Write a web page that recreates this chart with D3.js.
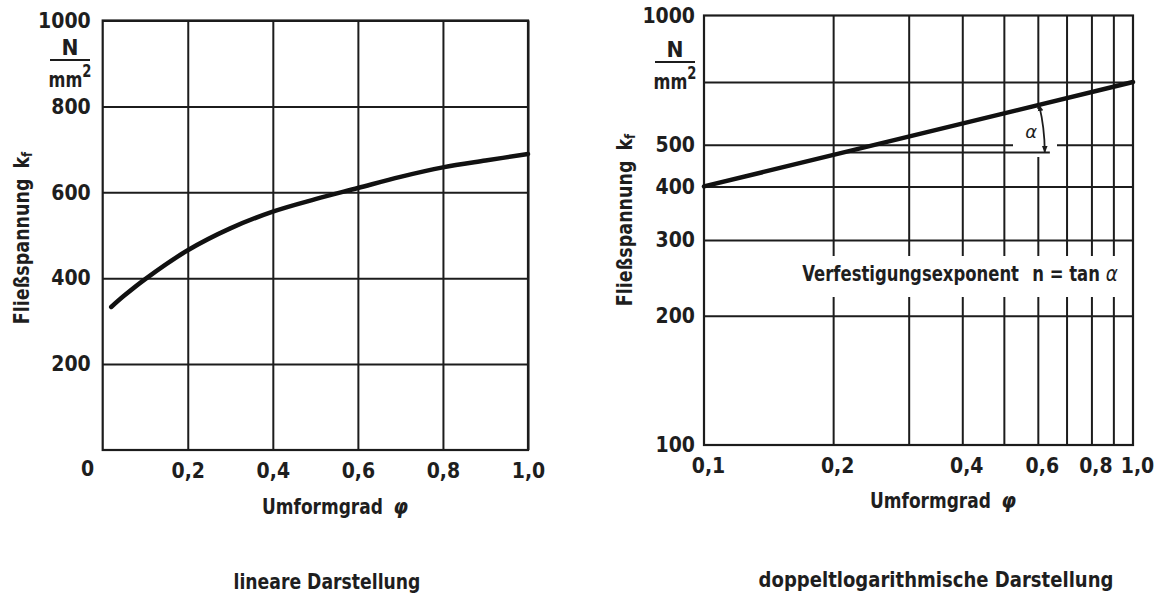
<!DOCTYPE html>
<html>
<head>
<meta charset="utf-8">
<script src="https://cdn.jsdelivr.net/npm/d3@7"></script>
<style>
  html, body { margin: 0; padding: 0; background: #fff; }
  svg { display: block; }
  text {
    font-family: "Liberation Sans Narrow", "DejaVu Sans Condensed", "Liberation Sans", sans-serif;
    font-weight: bold;
    fill: #1e1e1e;
  }
</style>
</head>
<body>
<svg id="chart" width="1165" height="596"></svg>
<script>
// ---- linear plot: flow stress k_f over true strain phi ----
const phiLin = [0.02, 0.05, 0.1, 0.2, 0.3, 0.4, 0.5, 0.6, 0.7, 0.8, 0.9, 1.0];
const kfLin  = [333, 359, 398, 465, 516, 555, 584, 610, 636, 658, 674, 689];
const linXTicks = [0.2, 0.4, 0.6, 0.8, 1.0];
const linYTicks = [200, 400, 600, 800, 1000];

// ---- double-logarithmic plot ----
const phiLog = [0.1, 1.0];
const kfLog  = [400, 700];
const logXGrid   = [0.2, 0.3, 0.4, 0.5, 0.6, 0.7, 0.8, 0.9];
const logXLabels = [0.1, 0.2, 0.4, 0.6, 0.8, 1.0];
const logYGrid   = [200, 300, 400, 500, 700];
const logYLabels = [100, 200, 300, 400, 500, 1000];
const legLevel   = 480;   // horizontal leg of the slope angle
const legEndPhi  = 0.64;  // where the leg stops

const INK = "#1c1c1c";
const fmt = d => d3.format(".1f")(d).replace(".", ",");

const svg = d3.select("#chart");

// arrow head for the angle arc
svg.append("defs").append("marker")
  .attr("id", "arr").attr("viewBox", "0 0 10 10")
  .attr("refX", 9).attr("refY", 5)
  .attr("markerWidth", 7).attr("markerHeight", 7)
  .attr("markerUnits", "userSpaceOnUse")
  .attr("orient", "auto-start-reverse")
  .append("path").attr("d", "M0,1 L10,5 L0,9 Z").attr("fill", INK);

function styleGrid(g) {
  g.select(".domain").remove();
  g.selectAll(".tick line").attr("stroke", INK).attr("stroke-width", 2);
  g.selectAll(".tick text").attr("fill", INK).style("font-size", "21px");
}

// text centred on (x, y), squeezed horizontally to a given width
function label(g, x, y, size, width, rot) {
  const t = g.append("text").attr("x", 0).attr("y", 0)
    .attr("text-anchor", "middle").attr("dominant-baseline", "central")
    .style("font-size", size + "px");
  t.fit = function () {
    const w = this.node().getBBox().width;
    const f = width ? width / w : 1;
    this.attr("transform", `translate(${x},${y})${rot ? ` rotate(${rot})` : ""} scale(${f},1)`);
    return this;
  };
  return t;
}

function fraction(g, cx, top) {
  label(g, cx, top, 21, 17).text("N").fit();
  g.append("line").attr("x1", cx - 20).attr("x2", cx + 20)
    .attr("y1", top + 12).attr("y2", top + 12)
    .attr("stroke", INK).attr("stroke-width", 2);
  const mm = label(g, cx, top + 31, 21, 43);
  mm.append("tspan").text("mm");
  mm.append("tspan").attr("dy", -8).style("font-size", "17px").text("2");
  mm.fit();
}

function yTitle(g, x, y) {
  const t = label(g, x, y, 21, 173, -90);
  t.append("tspan").text("Fließspannung ");
  t.append("tspan").attr("dx", 4).text("k");
  t.append("tspan").attr("dy", 5).style("font-size", "14px").text("f");
  t.fit();
}

function xTitle(g, x, y) {
  const t = label(g, x, y, 22, 146);
  t.append("tspan").text("Umformgrad");
  t.append("tspan").attr("dx", 12).style("font-style", "italic")
    .style("font-family", "DejaVu Sans, sans-serif").text("φ");
  t.fit();
}

// ================= linear plot =================
const xL = d3.scaleLinear([0, 1], [102.7, 528]);
const yL = d3.scaleLinear([0, 1000], [450, 20.5]);
const gL = svg.append("g");

gL.append("g").attr("transform", `translate(0,${yL(0)})`)
  .call(d3.axisBottom(xL).tickValues(linXTicks).tickFormat(fmt)
    .tickSize(-(yL(0) - yL(1000))).tickPadding(13))
  .call(styleGrid);

gL.append("g").attr("transform", `translate(${xL(0)},0)`)
  .call(d3.axisLeft(yL).tickValues(linYTicks).tickFormat(d3.format("d"))
    .tickSize(-(xL(1) - xL(0))).tickPadding(12))
  .call(styleGrid);

gL.append("rect").attr("x", xL(0)).attr("y", yL(1000))
  .attr("width", xL(1) - xL(0)).attr("height", yL(0) - yL(1000))
  .attr("fill", "none").attr("stroke", INK).attr("stroke-width", 2.2);

label(gL, xL(0) - 15, yL(0) + 19, 21).text("0").fit();

gL.append("path")
  .datum(phiLin.map((p, i) => [p, kfLin[i]]))
  .attr("fill", "none").attr("stroke", "#111").attr("stroke-width", 4.5)
  .attr("stroke-linecap", "round")
  .attr("d", d3.line().x(d => xL(d[0])).y(d => yL(d[1])).curve(d3.curveCatmullRom.alpha(0.5)));

fraction(gL, 70, 48);
yTitle(gL, 22, 238);
xTitle(gL, 335, 506);
label(gL, 327, 582, 22, 187).text("lineare Darstellung").fit();

// ================= double-logarithmic plot =================
const xR = d3.scaleLog([0.1, 1], [704, 1133]);
const yR = d3.scaleLog([100, 1000], [445, 15.5]);
const gR = svg.append("g");

gR.append("g").attr("transform", `translate(0,${yR(100)})`)
  .call(d3.axisBottom(xR).tickValues(logXGrid).tickFormat("")
    .tickSize(-(yR(100) - yR(1000))))
  .call(styleGrid);

gR.append("g").attr("transform", `translate(${xR(0.1)},0)`)
  .call(d3.axisLeft(yR).tickValues(logYGrid).tickFormat("")
    .tickSize(-(xR(1) - xR(0.1))))
  .call(styleGrid);

// tick labels
gR.append("g").attr("transform", `translate(4,${yR(100)})`)
  .call(d3.axisBottom(xR).tickValues(logXLabels).tickFormat(fmt).tickSize(0).tickPadding(13))
  .call(styleGrid);
gR.append("g").attr("transform", `translate(${xR(0.1)},0)`)
  .call(d3.axisLeft(yR).tickValues(logYLabels).tickFormat(d3.format("d")).tickSize(0).tickPadding(9))
  .call(styleGrid);

// white band behind the exponent note, and clearing around the angle
const noteY = 276;
gR.append("rect").attr("x", xR(0.1) + 2).attr("y", noteY - 20)
  .attr("width", xR(1) - xR(0.1) - 4).attr("height", 41).attr("fill", "#fff");
gR.append("rect").attr("x", 1013).attr("y", 109).attr("width", 44).attr("height", 48).attr("fill", "#fff");

gR.append("rect").attr("x", xR(0.1)).attr("y", yR(1000))
  .attr("width", xR(1) - xR(0.1)).attr("height", yR(100) - yR(1000))
  .attr("fill", "none").attr("stroke", INK).attr("stroke-width", 2.2);

// slope triangle: vertex where the line reaches the leg level
const nExp = Math.log(kfLog[1] / kfLog[0]) / Math.log(phiLog[1] / phiLog[0]);
const vPhi = phiLog[0] * Math.pow(legLevel / kfLog[0], 1 / nExp);
const vx = xR(vPhi), vy = yR(legLevel);
gR.append("line").attr("x1", vx).attr("x2", xR(legEndPhi)).attr("y1", vy).attr("y2", vy)
  .attr("stroke", INK).attr("stroke-width", 2);

gR.append("path")
  .datum(phiLog.map((p, i) => [p, kfLog[i]]))
  .attr("fill", "none").attr("stroke", "#111").attr("stroke-width", 4.5)
  .attr("stroke-linecap", "round")
  .attr("d", d3.line().x(d => xR(d[0])).y(d => yR(d[1])));

const ang = Math.atan2(yR(kfLog[0]) - yR(kfLog[1]), xR(phiLog[1]) - xR(phiLog[0]));
const rad = 201;
const p1 = [vx + rad * Math.cos(ang), vy - rad * Math.sin(ang)];
const p2 = [vx + rad, vy];
gR.append("path")
  .attr("d", `M${p1[0]},${p1[1]} A${rad},${rad} 0 0 1 ${p2[0]},${p2[1]}`)
  .attr("fill", "none").attr("stroke", INK).attr("stroke-width", 1.8)
  .attr("marker-start", "url(#arr)").attr("marker-end", "url(#arr)");
gR.append("text").attr("x", p1[0] - 8).attr("y", (p1[1] + p2[1]) / 2 + 3)
  .attr("text-anchor", "middle").attr("dominant-baseline", "central")
  .style("font-family", "DejaVu Sans, sans-serif").style("font-style", "italic")
  .style("font-weight", "normal").style("font-size", "18px").text("α");

const note = label(gR, 960, noteY - 3, 22, 316);
note.append("tspan").text("Verfestigungsexponent");
note.append("tspan").attr("dx", 16).text("n = tan ");
note.append("tspan").style("font-family", "DejaVu Sans, sans-serif").style("font-style", "italic")
  .style("font-weight", "normal").text("α");
note.fit();

fraction(gR, 675, 50);
yTitle(gR, 625, 220);
xTitle(gR, 943, 500);
label(gR, 936, 579, 22, 355).text("doppeltlogarithmische Darstellung").fit();
</script>
</body>
</html>
